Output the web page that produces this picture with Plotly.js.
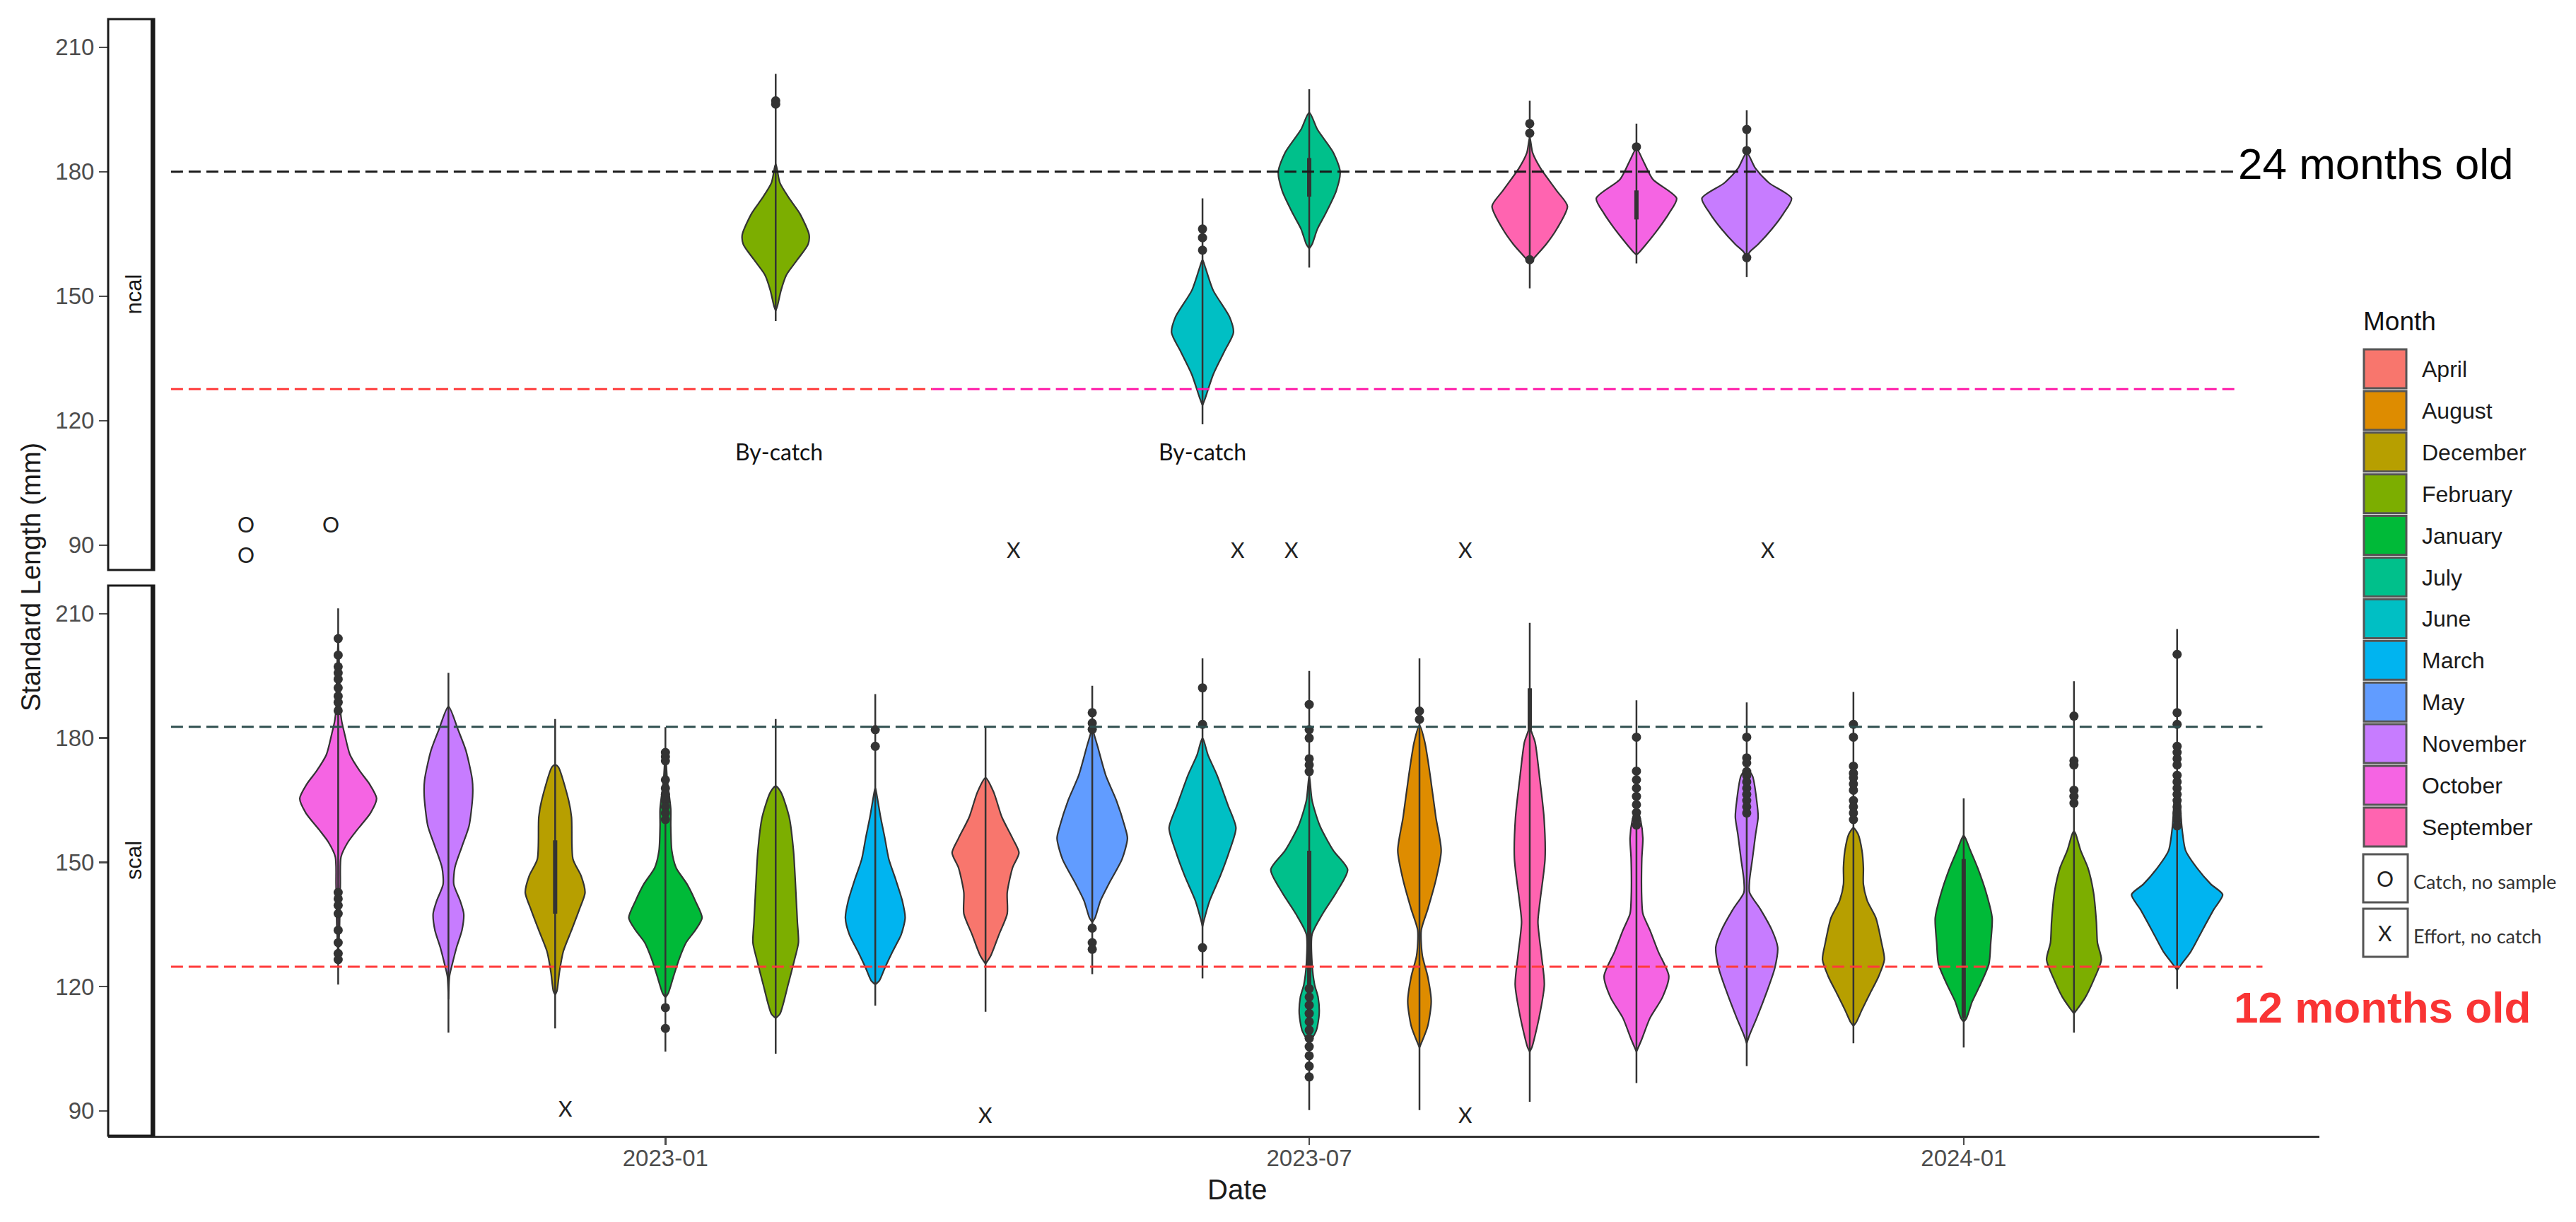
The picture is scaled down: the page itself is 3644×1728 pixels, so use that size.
<!DOCTYPE html>
<html>
<head>
<meta charset="utf-8">
<script src="https://cdn.plot.ly/plotly-3.0.1.min.js"></script>
<style>html,body{margin:0;padding:0;background:#fff;} #chart{width:3644px;height:1728px;}</style>
</head>
<body>
<div id="chart"></div>
<script>
// Month legend (ggplot hue palette, alphabetical factor order)
var months = ["April", "August", "December", "February", "January", "July", "June", "March", "May", "November", "October", "September"];
var monthColors = ["#F8766D", "#DE8C00", "#B79F00", "#7CAE00", "#00BA38", "#00C08B", "#00BFC4", "#00B4F0", "#619CFF", "#C77CFF", "#F564E3", "#FF64B0"];

// one violin per sampling month; levels run top -> bottom (mm), half widths in days
var violinPanel = ["scal", "scal", "scal", "scal", "scal", "scal", "scal", "scal", "scal", "scal", "scal", "scal", "scal", "scal", "scal", "scal", "scal", "scal",
  "ncal", "ncal", "ncal", "ncal", "ncal", "ncal"];
var violinDate = ["2022-10-01", "2022-11-01", "2022-12-01", "2023-01-01", "2023-02-01", "2023-03-01", "2023-04-01", "2023-05-01", "2023-06-01",
  "2023-07-01", "2023-08-01", "2023-09-01", "2023-10-01", "2023-11-01", "2023-12-01", "2024-01-01", "2024-02-01", "2024-03-01",
  "2023-02-01", "2023-06-01", "2023-07-01", "2023-09-01", "2023-10-01", "2023-11-01"];
var violinMonth = ["October", "November", "December", "January", "February", "March", "April", "May", "June",
  "July", "August", "September", "October", "November", "December", "January", "February", "March",
  "February", "June", "July", "September", "October", "November"];
var violinLevels = [
  [204, 195, 187, 184, 181.0, 176.0, 172.0, 168.9, 165.4, 161.9, 157.8, 154.8, 151.3, 144.7, 135, 126.5],
  [187.6, 182.0, 177.0, 169.9, 165.9, 158.8, 153.8, 148.7, 144.7, 140.7, 137.6, 133.6, 129.5, 125.5, 122.5, 116.9],
  [173.5, 173.0, 164.9, 160.9, 150.8, 146.7, 142.7, 138.6, 133.6, 128.5, 123.5, 118.9, 118.0],
  [176.5, 170, 162.9, 158.8, 152.8, 148.7, 144.7, 140.7, 136.6, 133.6, 130.6, 126.5, 122.5, 118.4, 117.4],
  [168.4, 166.9, 160.9, 152.8, 140.7, 135.6, 130.6, 126.5, 120.5, 113.4, 112.4],
  [168, 166.4, 160.9, 155.8, 150.8, 145.7, 140.7, 136.6, 132.6, 128.5, 124.5, 121.5, 120.5],
  [170.4, 166.9, 160.9, 155.8, 152.3, 148.7, 142.7, 137.6, 132.6, 127.5, 125.5],
  [182.5, 181.5, 178.0, 171.0, 164.9, 158.8, 155.8, 150.8, 144.7, 140.7, 136.6, 135.5],
  [180, 179.0, 176.0, 171.0, 163.9, 158.3, 152.8, 146.7, 140.7, 135.6, 134.5],
  [171.0, 164.9, 158.8, 152.8, 148.2, 142.7, 137.6, 132.6, 125.5, 120.5, 117.4, 113.4, 109.4, 106.3],
  [183.1, 179.0, 171.0, 160.9, 152.8, 145.7, 138.6, 133.6, 127.5, 122.5, 116.4, 110.4, 105.3],
  [183.5, 182.0, 179.0, 171.0, 160.9, 150.8, 140.7, 135.6, 127.5, 120.5, 112.4, 105.3, 104.3],
  [163, 160, 155.8, 150.8, 140.7, 137.6, 133.6, 128.5, 122.5, 117.4, 112.4, 107.3, 104.3],
  [172.5, 170.9, 164.9, 160.9, 156.8, 150.8, 145.7, 142.7, 138.6, 133.6, 129.5, 124.5, 118.4, 112.4, 108.3, 106.3],
  [158.3, 156.8, 152.8, 148.7, 144.7, 140.7, 136.6, 130.6, 126.5, 122.5, 118.4, 114.4, 111.4, 110.5],
  [156.5, 155.8, 152.8, 148.7, 142.7, 136.6, 130.6, 125.5, 120.5, 116.4, 112.4, 111.5],
  [157.5, 156.8, 152.8, 148.7, 142.7, 135.6, 130.6, 126.5, 121.5, 117.4, 114.4, 113.5],
  [169.9, 164.9, 158.8, 152.8, 148.7, 144.7, 142.2, 138.6, 133.6, 128.5, 125.5, 124.0],
  [181.9, 177.3, 173.6, 169.9, 164.8, 162.5, 158.8, 155.1, 151.4, 147.7, 146.5],
  [158.8, 156.9, 151.4, 145.0, 141.2, 136.6, 131.1, 125.5, 123.7],
  [194.3, 190.2, 184.6, 180.0, 175.4, 169.9, 166.2, 162.5, 161.5],
  [188.3, 184.6, 180.9, 175.4, 171.7, 166.2, 162.5, 158.8, 157.9],
  [185.6, 182.8, 178.2, 173.6, 169.9, 166.2, 162.5, 160.6, 160.0],
  [184.6, 180.9, 177.3, 173.6, 169.9, 166.2, 162.5, 160.6, 158.8]
];
var violinHalf = [
  [0, 0.4, 0.6, 1.0, 1.8, 3.3, 6.1, 8.8, 10.8, 9.1, 5.3, 2.7, 0.8, 0.6, 0.4, 0],
  [0, 2.7, 4.9, 6.7, 6.8, 5.8, 3.8, 1.8, 1.5, 3.3, 4.3, 3.8, 2.3, 1.1, 0.3, 0],
  [0, 0.9, 3.8, 4.6, 5.0, 7.3, 8.4, 6.8, 4.6, 2.3, 1.2, 0.5, 0],
  [0, 0.5, 1.5, 1.5, 1.8, 3.0, 6.1, 8.4, 10.3, 8.4, 5.8, 3.8, 2.3, 0.8, 0],
  [0, 1.5, 3.8, 5.0, 5.8, 6.1, 6.4, 5.3, 3.5, 1.2, 0],
  [0, 0.4, 1.5, 2.7, 3.8, 5.8, 7.6, 8.4, 7.3, 4.9, 2.7, 1.2, 0],
  [0, 2.3, 4.6, 7.6, 9.4, 7.6, 6.1, 6.1, 3.8, 1.5, 0],
  [0, 0.3, 1.5, 3.8, 6.8, 9.1, 9.9, 8.4, 4.6, 2.3, 0.8, 0],
  [0, 0.5, 1.5, 4.1, 7.1, 9.4, 7.6, 5.0, 2.0, 0.3, 0],
  [0, 0.8, 3.0, 6.8, 10.8, 7.6, 3.8, 0.8, 0.8, 1.5, 2.5, 2.8, 2.0, 0],
  [0, 1.5, 3.0, 4.6, 6.1, 4.6, 2.3, 0.5, 0.8, 2.3, 3.3, 2.3, 0],
  [0, 0.3, 1.5, 2.7, 4.0, 4.3, 2.9, 2.3, 3.3, 4.1, 2.6, 0.6, 0],
  [0, 1.2, 1.8, 1.5, 1.5, 1.8, 3.8, 6.1, 9.1, 7.3, 3.8, 1.5, 0],
  [0, 1.6, 2.8, 3.2, 2.5, 1.6, 0.8, 0.8, 3.9, 7.1, 8.7, 7.9, 5.5, 2.8, 0.8, 0],
  [0, 1.3, 2.4, 2.8, 2.8, 3.9, 6.3, 7.9, 8.7, 7.1, 4.7, 2.4, 0.8, 0],
  [0, 0.5, 1.9, 3.9, 6.3, 8.0, 7.6, 7.1, 4.7, 2.4, 0.8, 0],
  [0, 0.5, 1.9, 3.9, 5.5, 6.3, 6.6, 7.7, 5.5, 3.2, 0.8, 0],
  [0, 0.8, 1.3, 2.4, 5.5, 9.5, 12.8, 10.3, 7.1, 3.9, 1.3, 0],
  [0, 1.2, 3.8, 6.8, 9.4, 9.1, 6.1, 3.0, 1.5, 0.5, 0],
  [0, 0.8, 3.0, 7.6, 8.7, 6.1, 3.0, 0.8, 0],
  [0, 2.3, 6.8, 8.7, 7.6, 4.6, 2.3, 0.8, 0],
  [0, 0.8, 3.0, 7.6, 10.6, 7.6, 4.6, 0.8, 0],
  [0, 1.8, 4.6, 11.3, 9.1, 6.1, 2.7, 0.8, 0],
  [0, 2.4, 6.3, 12.6, 10.3, 7.1, 3.2, 0.8, 0]
];
var whiskerLow = [120.5, 108.9, 109.9, 104.3, 103.8, 115.4, 113.9, 123.0, 122.0, 90.2, 90.2, 92.2, 96.7, 100.8, 106.3, 105.3, 108.9, 119.4,
  144.0, 119.1, 156.9, 151.9, 157.9, 154.6];
var whiskerHigh = [211.3, 195.7, 184.6, 182.6, 184.6, 190.6, 182.6, 192.6, 199.2, 196.2, 199.2, 207.8, 189.1, 188.6, 191.1, 165.4, 193.7, 206.3,
  203.6, 173.6, 199.9, 197.1, 191.6, 194.8];
var boxLow = [null, null, 137.6, null, null, null, null, null, null, 110.0, null, 182.0, null, null, null, 112.4, null, null,
  null, null, 174.0, null, 168.5, null];
var boxHigh = [null, null, 155.3, null, null, null, null, null, null, 152.8, null, 192.0, null, null, null, 150.8, null, null,
  null, null, 183.3, null, 175.5, null];
var outlierY = [
  [204, 200, 197.2, 195.7, 194.2, 192.1, 190.1, 188.6, 186.6, 142.7, 141.2, 139.6, 137.6, 133.6, 130.6, 128.0, 126.5],
  [],
  [],
  [176.5, 175.5, 174.5, 169.9, 167.9, 166.4, 164.9, 163.4, 161.9, 160.3, 114.9, 109.9],
  [],
  [182.0, 178.0],
  [],
  [186.1, 183.6, 182.1, 134.1, 130.6, 129.0],
  [192.1, 183.3, 129.4],
  [188.1, 182.0, 180.0, 175.0, 173.5, 171.9, 119.5, 117.5, 115.5, 113.5, 111.5, 109.5, 107.5, 105.5, 103.3, 100.8, 98.2],
  [186.5, 184.5],
  [],
  [180.2, 172.0, 169.9, 167.9, 165.9, 163.9, 162.0, 160.5, 159.0],
  [180.2, 175.2, 174.0, 171.9, 170.9, 169.4, 167.9, 166.4, 164.9, 163.4, 161.9],
  [183.3, 180.2, 173.2, 171.5, 170.4, 168.9, 167.4, 164.9, 163.4, 161.9, 160.3],
  [],
  [185.3, 174.5, 173.5, 167.4, 165.9, 164.3],
  [200.2, 186.1, 183.3, 178.0, 176.5, 175.0, 173.5, 171.0, 169.4, 167.9, 166.4, 164.9, 163.4, 161.9, 160.3, 158.8],
  [197.1, 196.3],
  [166.2, 164.1, 161.1],
  [],
  [191.6, 189.3, 158.8],
  [186.0],
  [190.2, 185.1, 159.3]
];

// dashed reference lines
var refPanel = ["ncal", "ncal", "ncal", "scal", "scal"];
var refY = [180, 127.6, 127.6, 182.7, 124.8];
var refStart = ["2022-08-15", "2022-08-15", "2023-03-17", "2022-08-15", "2022-08-15"];
var refEnd = ["2024-03-18", "2023-03-17", "2024-03-18", "2024-03-25", "2024-03-25"];
var refColor = ["#1a1a1a", "#FF3B3B", "#FF1AA8", "#2F4F4F", "#FF3B3B"];

// hand-placed survey notes
var notePanel = ["ncal", "ncal", "ncal", "ncal", "ncal", "ncal", "ncal", "ncal", "scal", "scal", "scal"];
var noteDate = ["2022-09-05", "2022-09-05", "2022-09-29", "2023-04-09", "2023-06-11", "2023-06-26", "2023-08-14", "2023-11-07",
  "2022-12-04", "2023-04-01", "2023-08-14"];
var noteY = [95, 87.7, 95, 88.9, 88.9, 88.9, 88.9, 88.9, 90.7, 89.1, 89.1];
var noteText = ["O", "O", "O", "X", "X", "X", "X", "X", "X", "X", "X"];
var bycatchDate = ["2023-02-02", "2023-06-01"];
var bycatchY = [112.6, 112.6];

var xTickVals = ["2023-01-01", "2023-07-01", "2024-01-01"];
var xTickText = ["2023-01", "2023-07", "2024-01"];
var yTickVals = [90, 120, 150, 180, 210];

var DAY = 86400000;
var W = 3644, H = 1728;
var plotL = 153, plotR = 3281, plotT = 27, plotB = 1606;
var SANS = "Liberation Sans, Arial, sans-serif";
var HAND = "Lato, Open Sans, sans-serif";
function px(x) { return (x - plotL) / (plotR - plotL); }
function py(y) { return (plotB - y) / (plotB - plotT); }
function yref(p) { return p === "ncal" ? "y2" : "y"; }

var data = [];
// violins
violinDate.forEach(function (d, i) {
  var c = Date.parse(d);
  var lv = violinLevels[i], hw = violinHalf[i];
  var xs = [], ys = [], k;
  for (k = 0; k < lv.length; k++) { xs.push(c + hw[k] * DAY); ys.push(lv[k]); }
  for (k = lv.length - 1; k >= 0; k--) { xs.push(c - hw[k] * DAY); ys.push(lv[k]); }
  data.push({
    x: xs, y: ys, xaxis: "x", yaxis: yref(violinPanel[i]),
    type: "scatter", mode: "lines", fill: "toself",
    fillcolor: monthColors[months.indexOf(violinMonth[i])],
    line: { color: "#333333", width: 2.2, shape: "spline", smoothing: 0.7 },
    hoverinfo: "skip", showlegend: false
  });
});
// whisker lines, narrow boxes, outliers
violinDate.forEach(function (d, i) {
  var c = Date.parse(d);
  data.push({
    x: [c, c], y: [whiskerLow[i], whiskerHigh[i]], xaxis: "x", yaxis: yref(violinPanel[i]),
    type: "scatter", mode: "lines", line: { color: "#333333", width: 2.5 }, hoverinfo: "skip", showlegend: false
  });
  if (boxLow[i] !== null) {
    data.push({
      x: [c, c], y: [boxLow[i], boxHigh[i]], xaxis: "x", yaxis: yref(violinPanel[i]),
      type: "scatter", mode: "lines", line: { color: "#333333", width: 6 }, hoverinfo: "skip", showlegend: false
    });
  }
  if (outlierY[i].length) {
    data.push({
      x: outlierY[i].map(function () { return c; }), y: outlierY[i], xaxis: "x", yaxis: yref(violinPanel[i]),
      type: "scatter", mode: "markers", marker: { color: "#333333", size: 13 }, hoverinfo: "skip", showlegend: false
    });
  }
});

var shapes = [];
var annotations = [];
function note(o) {
  o.showarrow = false;
  if (!o.xanchor) o.xanchor = "center";
  if (!o.yanchor) o.yanchor = "middle";
  annotations.push(o);
}

// reference lines
refY.forEach(function (v, i) {
  shapes.push({
    type: "line", xref: "x", yref: yref(refPanel[i]), x0: refStart[i], x1: refEnd[i], y0: v, y1: v,
    line: { color: refColor[i], width: 3, dash: "17px,8px" }
  });
});

// facet strips on the left
[["ncal", "y2"], ["scal", "y"]].forEach(function (s) {
  shapes.push({ type: "rect", xref: "paper", yref: s[1] + " domain", x0: 0, x1: px(218), y0: 0, y1: 1,
    fillcolor: "white", line: { color: "#1a1a1a", width: 3 } });
  shapes.push({ type: "line", xref: "paper", yref: s[1] + " domain", x0: px(216), x1: px(216), y0: 0, y1: 1,
    line: { color: "#1a1a1a", width: 6 } });
  note({ xref: "paper", yref: s[1] + " domain", x: px(189), y: 0.5, text: s[0],
    textangle: -90, font: { family: SANS, size: 31, color: "#1a1a1a" } });
});

// O / X notes and by-catch labels
noteText.forEach(function (t, i) {
  note({ xref: "x", yref: yref(notePanel[i]), x: noteDate[i], y: noteY[i], text: t,
    font: { family: HAND, size: 30, color: "#222222" } });
});
bycatchDate.forEach(function (d, i) {
  note({ xref: "x", yref: "y2", x: d, y: bycatchY[i], text: "By-catch",
    font: { family: HAND, size: 32, color: "#111111" } });
});

note({ xref: "paper", yref: "y2", x: px(3164), y: 182, xanchor: "left",
  text: "24 months old", font: { family: SANS, size: 62, color: "#000000" } });
note({ xref: "paper", yref: "y", x: px(3158), y: 114.9, xanchor: "left",
  text: "<b>12 months old</b>", font: { family: SANS, size: 62, color: "#F93434" } });

// axis titles
note({ xref: "paper", yref: "paper", x: px(44), y: py(816), text: "Standard Length (mm)",
  textangle: -90, font: { family: SANS, size: 38, color: "#1a1a1a" } });
note({ xref: "paper", yref: "paper", x: px(1750), y: py(1682), text: "Date",
  font: { family: SANS, size: 40, color: "#1a1a1a" } });

// legend (drawn by hand to get ggplot-style square keys)
note({ xref: "paper", yref: "paper", x: px(3341), y: py(455), xanchor: "left", text: "Month",
  font: { family: SANS, size: 37, color: "#111111" } });
months.forEach(function (m, i) {
  var top = 492 + i * 58.9;
  shapes.push({ type: "rect", xref: "paper", yref: "paper", x0: px(3344), x1: px(3404), y0: py(top + 2), y1: py(top + 57),
    fillcolor: monthColors[i], line: { color: "#555555", width: 3 } });
  note({ xref: "paper", yref: "paper", x: px(3424), y: py(top + 30), xanchor: "left", text: m,
    font: { family: SANS, size: 32, color: "#1a1a1a" } });
});
var keyNotes = [["O", "Catch, no sample", 1208], ["X", "Effort, no catch", 1285]];
keyNotes.forEach(function (k) {
  shapes.push({ type: "rect", xref: "paper", yref: "paper", x0: px(3343), x1: px(3406), y0: py(k[2]), y1: py(k[2] + 68),
    fillcolor: "white", line: { color: "#555555", width: 3 } });
  note({ xref: "paper", yref: "paper", x: px(3374), y: py(k[2] + 34), text: k[0],
    font: { family: HAND, size: 30, color: "#222222" } });
  note({ xref: "paper", yref: "paper", x: px(3412), y: py(k[2] + 38), xanchor: "left", text: k[1],
    font: { family: HAND, size: 27, color: "#333333" } });
});

var yAxisBase = {
  range: [84, 216.8], tickvals: yTickVals, ticks: "outside", ticklen: 12, tickwidth: 2.5, tickcolor: "#4d4d4d",
  showgrid: false, zeroline: false, showline: false,
  tickfont: { family: SANS, size: 33, color: "#4d4d4d" }
};
var layout = {
  width: W, height: H,
  margin: { l: plotL, r: W - plotR, t: plotT, b: H - plotB },
  paper_bgcolor: "white", plot_bgcolor: "white",
  showlegend: false,
  xaxis: {
    type: "date", range: ["2022-07-28 08:00", "2024-04-10"], anchor: "y",
    tickvals: xTickVals, ticktext: xTickText, ticks: "outside", ticklen: 10, tickwidth: 2.5, tickcolor: "#4d4d4d",
    ticklabelstandoff: -10,
    showgrid: false, zeroline: false, showline: true, linecolor: "#333333", linewidth: 3,
    tickfont: { family: SANS, size: 33, color: "#4d4d4d" }
  },
  yaxis: Object.assign({ domain: [0, py(828)], anchor: "x" }, yAxisBase),
  yaxis2: Object.assign({ domain: [py(806), 1], anchor: "x" }, yAxisBase),
  shapes: shapes,
  annotations: annotations
};

Plotly.newPlot("chart", data, layout, { staticPlot: true });
</script>
</body>
</html>
